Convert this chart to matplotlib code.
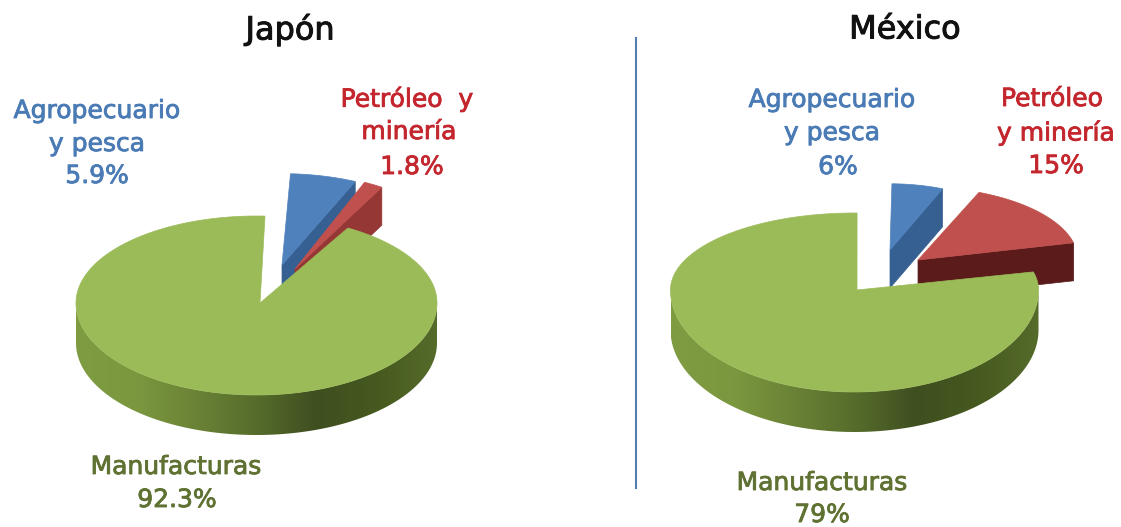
import numpy as np
import matplotlib
matplotlib.use("Agg")
import matplotlib.pyplot as plt
import matplotlib.patheffects as pe
from matplotlib.colors import LinearSegmentedColormap
from matplotlib.patches import Polygon

# shares of each sector, in percent
sectors = ["Agropecuario y pesca", "Petróleo y minería", "Manufacturas"]
japan_values = [5.9, 1.8, 92.3]
mexico_values = [6, 15, 79]

BLUE = "#4f81bd"
BLUE_SIDE = "#376092"
RED = "#c0504d"
GREEN = "#9bbb59"
BLUE_TEXT = "#4a7bb5"
RED_TEXT = "#c4262e"
GREEN_TEXT = "#5f7232"

green_side = LinearSegmentedColormap.from_list(
    "green_side", ["#7f9c42", "#7c983f", "#6a8236", "#566c2b", "#3f4f20", "#46591f", "#556b2a"])


def rim(c, t):
    # point on the top ellipse, the back half is flatter than the front one
    t = np.radians(t)
    s = np.sin(t)
    ry = np.where(s > 0, c["ry_back"], c["ry_front"])
    return c["cx"] + c["rx"] * np.cos(t), c["cy"] - ry * s


def draw_pie(ax, c, values, offsets, scales, red_side):
    angles = np.array(values) * 3.6
    t = c["start"]

    # the two exploded slices go first, the big one covers them
    for i, colour, side in [(0, BLUE, BLUE_SIDE), (1, RED, red_side)]:
        ts = np.linspace(t, t - angles[i], 30)
        x, y = rim(c, ts)
        ax0, ay0 = c["cx"] + offsets[i][0], c["cy"] + offsets[i][1]
        xs = ax0 + (x - c["cx"]) * scales[i][0]
        ys = ay0 + (y - c["cy"]) * scales[i][1]
        d = 38
        ax.add_patch(Polygon([(ax0, ay0), (xs[-1], ys[-1]), (xs[-1], ys[-1] + d), (ax0, ay0 + d)],
                             fc=side, ec=side, lw=0.5))
        ax.add_patch(Polygon(np.r_[[[ax0, ay0]], np.c_[xs, ys]], fc=colour, ec=colour, lw=0.5))
        t -= angles[i]

    # side wall of the big slice with its left to right shading
    ts = np.linspace(180, 360, 120)
    x, y = rim(c, ts)
    wall = Polygon(np.r_[np.c_[x, y], np.c_[x[::-1], y[::-1] + c["depth"]]], fc="none", ec="none")
    ax.add_patch(wall)
    img = ax.imshow(np.linspace(0, 1, 256)[None, :], cmap=green_side, aspect="auto",
                    extent=(c["cx"] - c["rx"], c["cx"] + c["rx"], c["cy"] + c["ry_front"] + c["depth"], c["cy"]))
    img.set_clip_path(wall)

    # top of the big slice, from the gap round to the gap
    ts = np.linspace(c["start"], c["start"] + angles[2], 400)
    x, y = rim(c, ts)
    apex = (c["cx"] + c["apex_dx"], c["cy"])
    ax.add_patch(Polygon(np.r_[[apex], np.c_[x, y]], fc=GREEN, ec=GREEN, lw=0.5, zorder=3))


fig = plt.figure(figsize=(11.21, 5.27), dpi=100)
ax = fig.add_axes([0, 0, 1, 1])

japan = dict(cx=256.5, cy=303, rx=180.5, ry_back=87, ry_front=92, depth=40, start=87.3, apex_dx=3.5)
mexico = dict(cx=854.5, cy=290, rx=184, ry_back=77, ry_front=102, depth=40, start=89.2, apex_dx=2.5)

draw_pie(ax, japan, japan_values, [(25.5, -38), (38.5, -34)], [(1, 1.05), (0.95, 1.09)], "#953735")
draw_pie(ax, mexico, mexico_values, [(35.5, -40), (63.5, -30)], [(0.75, 0.86), (0.87, 0.95)], "#5a1b1a")

ax.set_xlim(0, 1121)
ax.set_ylim(527, 0)
ax.axis("off")

ax.plot([636, 636], [38, 488], color="#4f7fb0", lw=1.5)

for x, s in [(290, "Japón"), (905, "México")]:
    ax.text(x, 30, s, fontsize=23, ha="center", va="center", color="#111111",
            path_effects=[pe.withStroke(linewidth=0.7, foreground="#111111")])

labels = [
    (97, 111, "Agropecuario", BLUE_TEXT), (97, 144, "y pesca", BLUE_TEXT), (97, 176, "5.9%", BLUE_TEXT),
    (407, 99, "Petróleo  y", RED_TEXT), (409, 132, "minería", RED_TEXT), (412, 167, "1.8%", RED_TEXT),
    (176, 467, "Manufacturas", GREEN_TEXT), (177, 500, "92.3%", GREEN_TEXT),
    (832, 100, "Agropecuario", BLUE_TEXT), (832, 133, "y pesca", BLUE_TEXT), (838, 167, "6%", BLUE_TEXT),
    (1052, 99, "Petróleo", RED_TEXT), (1056, 133, "y minería", RED_TEXT), (1056, 166, "15%", RED_TEXT),
    (822, 483, "Manufacturas", GREEN_TEXT), (822, 515, "79%", GREEN_TEXT),
]
for x, y, s, colour in labels:
    ax.text(x, y, s, fontsize=18, ha="center", va="center", color=colour,
            path_effects=[pe.withStroke(linewidth=0.6, foreground=colour)])

fig.savefig("out.png", dpi=100)
